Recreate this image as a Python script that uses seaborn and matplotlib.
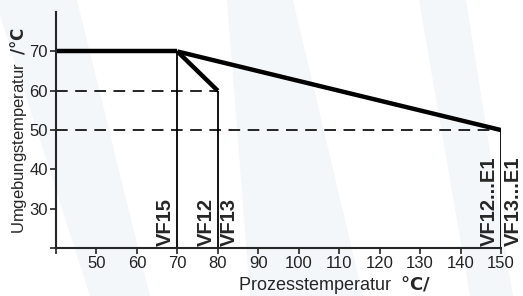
import matplotlib
matplotlib.use("Agg")
import matplotlib.pyplot as plt
import seaborn as sns
import pandas as pd
from matplotlib.patches import Polygon
from matplotlib.transforms import IdentityTransform

# derating curves (process temp -> max ambient temp)
plateau_x = [40, 70]
plateau_y = [70, 70]
e1_x = [70, 150]
e1_y = [70, 50]
vf12_x = [70, 80]
vf12_y = [70, 60]

# vertical limit lines and dashed guides
limit_x = [70, 80, 150]
limit_y = [70, 60, 50]
guide_y = [60, 50]
guide_x = [80, 150]

# rotated device labels: (x, text, side)
dev_x = [70, 80, 80, 150, 150]
dev_text = ["VF15", "VF12", "VF13", "VF12...E1", "VF13...E1"]
dev_side = ["right", "right", "left", "right", "left"]

x_ticks = [40, 50, 60, 70, 80, 90, 100, 110, 120, 130, 140, 150]
x_ticklabels = [""] + [str(v) for v in x_ticks[1:]]
y_ticks = [20, 30, 40, 50, 60, 70]
y_ticklabels = [""] + [str(v) for v in y_ticks[1:]]

sns.set_style("ticks")
plt.rcParams["font.family"] = ["Liberation Sans Narrow", "Liberation Sans", "DejaVu Sans"]
plt.rcParams["mathtext.fontset"] = "custom"
plt.rcParams["mathtext.bf"] = "Liberation Sans Narrow:bold"
plt.rcParams["mathtext.rm"] = "Liberation Sans Narrow"

fig = plt.figure(figsize=(5.23, 2.96), dpi=100)
fig.patch.set_facecolor("white")

# faint watermark stripes (pixel coords, top-left origin -> flipped)
H = 296
bands = [
    [(-5, 0), (77, 0), (150, 296), (90, 296)],
    [(227, 0), (293, 0), (363, 296), (250, 296)],
    [(419, 0), (466, 0), (513, 296), (470, 296)],
]
for b in bands:
    pts = [(x, H - y) for x, y in b]
    fig.patches.append(Polygon(pts, closed=True, transform=IdentityTransform(),
                               facecolor="#f3f7f9", edgecolor="none", zorder=-10))

ax = fig.add_axes([0.107, 0.162, 0.851, 0.797])
ax.set_facecolor("none")

curves = pd.concat([
    pd.DataFrame({"x": plateau_x, "y": plateau_y, "c": "plateau"}),
    pd.DataFrame({"x": e1_x, "y": e1_y, "c": "e1"}),
    pd.DataFrame({"x": vf12_x, "y": vf12_y, "c": "vf12"}),
])
sns.lineplot(data=curves, x="x", y="y", units="c", estimator=None, color="black",
             lw=3.2, ax=ax, sort=False, solid_capstyle="butt", solid_joinstyle="miter")

ax.vlines(limit_x, 20, limit_y, color="black", lw=1.3)
ax.hlines(guide_y, 40, guide_x, color="black", lw=1.2, linestyles=(0, (7, 4.5)))

for x, t, side in zip(dev_x, dev_text, dev_side):
    off = -0.6 if side == "right" else 0.6
    ax.text(x + off, 20.6, t, rotation=90, ha=side, va="bottom", fontsize=14.5,
            fontweight="bold", clip_on=False)

ax.set_xlim(40, 150)
ax.set_ylim(20, 80)
ax.set_xticks(x_ticks)
ax.set_xticklabels(x_ticklabels)
ax.set_yticks(y_ticks)
ax.set_yticklabels(y_ticklabels)
ax.tick_params(labelsize=12, length=4, width=1.2, pad=2, colors="#222222")
for s in ["right", "top"]:
    ax.spines[s].set_visible(False)
for s in ["left", "bottom"]:
    ax.spines[s].set_linewidth(1.5)

ax.set_xlabel(r"Prozesstemperatur  $\bf{°C/}$", fontsize=13, labelpad=0)
ax.xaxis.set_label_coords(0.625, -0.11)
ax.set_ylabel(r"Umgebungstemperatur  $\bf{/°C}$", fontsize=12, labelpad=0)

fig.savefig("out.png", dpi=100)
